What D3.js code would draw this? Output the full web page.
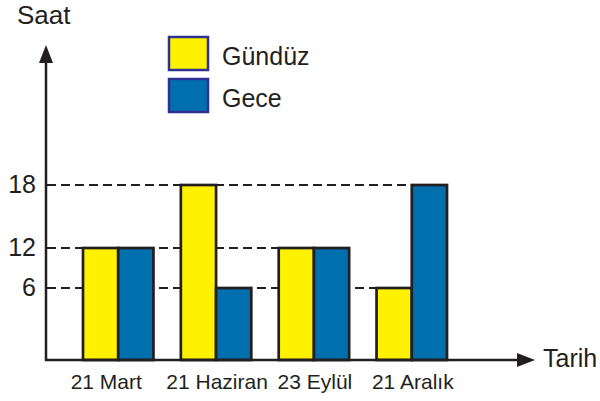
<!DOCTYPE html>
<html>
<head>
<meta charset="utf-8">
<script src="https://cdn.jsdelivr.net/npm/d3@7"></script>
<style>
  body { margin: 0; background: #fff; }
  text { font-family: "Liberation Sans", Arial, sans-serif; fill: #231f20; }
</style>
</head>
<body>
<div id="chart"></div>
<script>
var categories = ['21 Mart', '21 Haziran', '23 Eylül', '21 Aralık'];
var seriesNames = ['Gündüz', 'Gece'];
var gunduz = [12, 18, 12, 6];
var gece = [12, 6, 12, 18];
var yTicks = [6, 12, 18];

var INK = '#231f20';
var COLORS = ['#fff200', '#006fad'];

var svg = d3.select('#chart')
  .append('svg')
  .attr('width', 600)
  .attr('height', 401);

// the drawing is schematic: gaps between 0, 6, 12, 18 are not equal
var y = d3.scaleLinear().domain([0, 6, 12, 18]).range([360, 288, 248, 185]);
var x = d3.scaleBand().domain(categories).range([83, 447]).paddingInner(0.28).paddingOuter(0);
var xs = d3.scaleBand().domain(seriesNames).range([0, x.bandwidth()]);

var rows = categories.map(function(c, i) {
  return { cat: c, values: [gunduz[i], gece[i]] };
});

// dashed guides run from the axis to the last bar that reaches the level
var guides = yTicks.map(function(t) {
  var end = 46;
  rows.forEach(function(r) {
    r.values.forEach(function(v, j) {
      if (v === t) end = x(r.cat) + xs(seriesNames[j]);
    });
  });
  return { t: t, end: end };
});

svg.selectAll('.guide').data(guides).enter()
  .append('line').classed('guide', true)
  .attr('x1', 47).attr('x2', function(d) { return d.end; })
  .attr('y1', function(d) { return y(d.t); })
  .attr('y2', function(d) { return y(d.t); })
  .attr('stroke', INK).attr('stroke-width', 2)
  .attr('stroke-dasharray', '9,5');

svg.selectAll('.ylab').data(yTicks).enter()
  .append('text').classed('ylab', true)
  .attr('x', 36).attr('y', function(d) { return y(d) + 8; })
  .attr('text-anchor', 'end')
  .style('font-size', '25px')
  .text(function(d) { return d; });

var groups = svg.selectAll('.grp').data(rows).enter()
  .append('g').classed('grp', true)
  .attr('transform', function(d) { return 'translate(' + x(d.cat) + ',0)'; });

groups.selectAll('rect').data(function(d) { return d.values; }).enter()
  .append('rect')
  .attr('x', function(d, j) { return xs(seriesNames[j]); })
  .attr('width', xs.bandwidth())
  .attr('y', function(d) { return y(d); })
  .attr('height', function(d) { return y(0) - y(d); })
  .attr('fill', function(d, j) { return COLORS[j]; })
  .attr('stroke', INK).attr('stroke-width', 2.7);

groups.append('text')
  .attr('x', function(d, i) { return x.bandwidth() / 2 + (i === 0 ? -12 : 1); })
  .attr('y', 389)
  .attr('text-anchor', 'middle')
  .style('font-size', '21px')
  .text(function(d) { return d.cat; });

// axes with arrow heads
svg.append('line')
  .attr('x1', 46).attr('y1', 361).attr('x2', 46).attr('y2', 60)
  .attr('stroke', INK).attr('stroke-width', 2.5);
svg.append('path').attr('d', 'M46,45 L39,63 L53,63 Z').attr('fill', INK);
svg.append('line')
  .attr('x1', 45).attr('y1', 360).attr('x2', 520).attr('y2', 360)
  .attr('stroke', INK).attr('stroke-width', 2.5);
svg.append('path').attr('d', 'M535,360 L517,353 L517,367 Z').attr('fill', INK);

svg.append('text').attr('x', 17).attr('y', 24).style('font-size', '26px').text('Saat');
svg.append('text').attr('x', 543).attr('y', 367).style('font-size', '25px').text('Tarih');

// legend
var legend = svg.selectAll('.leg').data(seriesNames).enter()
  .append('g').classed('leg', true)
  .attr('transform', function(d, i) { return 'translate(169,' + (37 + i * 42) + ')'; });
legend.append('rect')
  .attr('width', 39).attr('height', 33)
  .attr('fill', function(d, i) { return COLORS[i]; })
  .attr('stroke', '#2e3192').attr('stroke-width', 2.5);
legend.append('text')
  .attr('x', 53).attr('y', 28)
  .style('font-size', '25px')
  .text(function(d) { return d; });
</script>
</body>
</html>
